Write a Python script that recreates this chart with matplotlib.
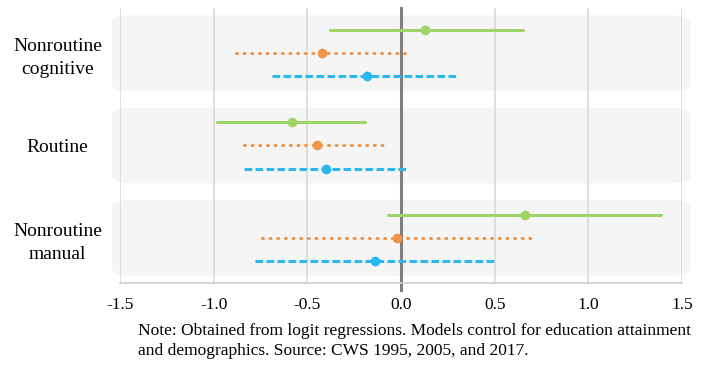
import matplotlib.pyplot as plt
from matplotlib.patches import FancyBboxPatch

plt.rcParams['font.family'] = ['Liberation Serif', 'DejaVu Serif']

# データ
categories = ['Nonroutine\ncognitive', 'Routine', 'Nonroutine\nmanual']
series_names = ['1995', '2005', '2017']
estimates = [
    [0.13, -0.58, 0.66],
    [-0.42, -0.45, -0.02],
    [-0.18, -0.40, -0.14],
]
lower = [
    [-0.38, -0.98, -0.07],
    [-0.88, -0.84, -0.74],
    [-0.69, -0.84, -0.78],
]
upper = [
    [0.65, -0.19, 1.39],
    [0.02, -0.09, 0.70],
    [0.30, 0.03, 0.51],
]
xticks = [-1.5, -1.0, -0.5, 0.0, 0.5, 1.0, 1.5]
note = ('Note: Obtained from logit regressions. Models control for education attainment\n'
        'and demographics. Source: CWS 1995, 2005, and 2017.')

colors = ['#a0d468', '#f0954b', '#2bb8ec']
styles = ['-', (0, (0.3, 2.2)), (0, (2.5, 1.1))]
caps = ['round', 'round', 'butt']
offsets = [-0.25, 0.0, 0.25]

fig = plt.figure(figsize=(7.07, 3.66), dpi=100)
ax = fig.add_axes([120 / 707, 1 - 283 / 366, 562 / 707, 275 / 366])

# 背景の帯
for i in range(len(categories)):
    band = FancyBboxPatch((-1.543, i - 0.41), 3.086, 0.82,
                          boxstyle='round,pad=0,rounding_size=0.1',
                          mutation_aspect=0.84,
                          facecolor='#f5f5f5', edgecolor='none',
                          zorder=0, clip_on=False)
    ax.add_patch(band)

for x in xticks:
    if x == 0:
        continue
    ax.axvline(x, color='#d9d9d9', lw=1.2, zorder=1)
ax.plot([0, 0], [-0.49, 2.57], color='#7f7f7f', lw=2.2, zorder=2,
        clip_on=False)

for s in range(len(series_names)):
    for i in range(len(categories)):
        y = i + offsets[s]
        ax.plot([lower[s][i], upper[s][i]], [y, y], color=colors[s],
                ls=styles[s], lw=2.2, zorder=3,
                dash_capstyle=caps[s], solid_capstyle='round')
        ax.plot(estimates[s][i], y, 'o', color=colors[s], ms=6, zorder=4)

ax.set_xlim(-1.5, 1.5)
ax.set_ylim(2.49, -0.49)
ax.set_xticks(xticks)
ax.set_xticklabels([f'{x:.1f}' for x in xticks], fontsize=12.5)
ax.tick_params(axis='x', length=0, pad=10)
ax.set_yticks(range(len(categories)))
ax.set_yticklabels(categories, fontsize=14, ha='center',
                   linespacing=1.45)
ax.tick_params(axis='y', length=0, pad=45)
for sp in ['top', 'left', 'right']:
    ax.spines[sp].set_visible(False)
ax.spines['bottom'].set_color('#d0d0d0')
ax.spines['bottom'].set_linewidth(1.2)
ax.patch.set_alpha(0)

fig.text(138 / 707, 1 - 341 / 366, note, fontsize=12.5, va='center',
         ha='left', linespacing=1.3)

plt.savefig('out.png', dpi=100)
